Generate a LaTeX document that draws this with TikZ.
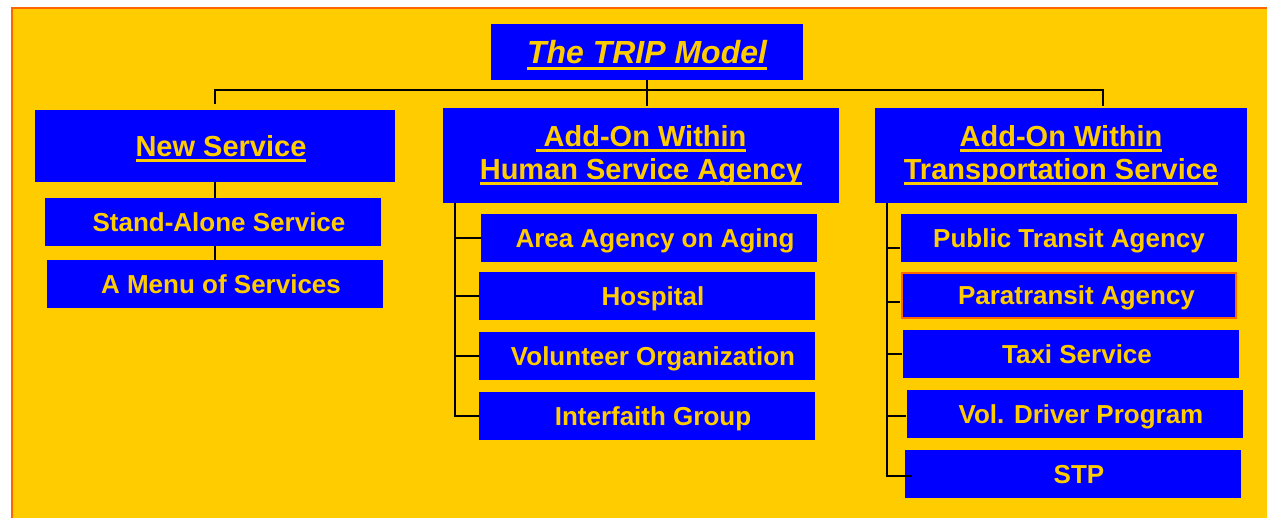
\documentclass[tikz,border=0pt]{standalone}
\usepackage{fontspec}
\setmainfont{Liberation Sans}
\usepackage{tikz}
\usetikzlibrary{calc}
\definecolor{tripyellow}{RGB}{255,204,0}
\definecolor{tripblue}{RGB}{0,0,255}
\definecolor{triporange}{RGB}{255,102,0}
% underline with a fixed gap below the baseline
\newcommand\tripul[2][2.8pt]{\setbox0\hbox{#2}\rlap{\vrule height -#1 depth \dimexpr#1+3pt\relax width \wd0}\box0}

\begin{document}
\begin{tikzpicture}[x=1pt, y=-1pt,
  box/.style={fill=tripblue, text=tripyellow, inner sep=0pt, align=center},
  head/.style={box, font=\bfseries\fontsize{29}{33}\selectfont},
  member/.style={box, font=\bfseries\fontsize{26}{30}\selectfont, minimum width=336, minimum height=48, text height=19pt, text depth=0pt},
  nudge/.style={execute at begin node=\hspace*{#1}},
  link/.style={black, line width=1.7pt}]
  \useasboundingbox (0,0) rectangle (1267,518);
  \fill[tripyellow] (12,8) rectangle (1267,518);
  \draw[triporange, line width=2pt] (12,518) -- (12,8) -- (1267,8);

  \node[box, font=\bfseries\itshape\fontsize{32}{36}\selectfont, minimum width=312, minimum height=56, text height=23pt, text depth=0pt] (title) at (647,52) {\tripul[4pt]{The TRIP Model}};

  % the three kinds of service
  \node[head, minimum width=360, minimum height=72, text height=21pt, text depth=0pt] (hdrN) at (215,146) {\hspace*{12pt}\tripul{New Service}};
  \node[head, minimum width=396, minimum height=95] (hdrH) at (641,155.5) {\tripul{\ Add-On Within}\\\tripul{Human Service Agency}};
  \node[head, minimum width=372, minimum height=95] (hdrT) at (1061,155.5) {\tripul{Add-On Within}\\\tripul{Transportation Service}};

  % New service
  \node[member, nudge=12pt] (sas) at (213,222) {Stand-Alone Service};
  \node[member, nudge=12pt] (menu) at (215,284) {A Menu of Services};
  % Human service agency
  \node[member, nudge=12pt] (aaa) at (649,238) {Area Agency on Aging};
  \node[member, nudge=12pt] (hosp) at (647,296) {Hospital};
  \node[member, nudge=12pt] (vol) at (647,356) {Volunteer Organization};
  \node[member, nudge=12pt] (ig) at (647,416) {Interfaith Group};
  % Transportation service
  \node[member] (pta) at (1069,238) {Public Transit Agency};
  \node[member, draw=triporange, line width=2pt, minimum width=334, minimum height=45, nudge=15pt] (para) at (1069,295.5) {Paratransit Agency};
  \node[member, nudge=12pt] (taxi) at (1071,354) {Taxi Service};
  \node[member, nudge=12pt] (vdp) at (1075,414) {Vol. Driver Program};
  \node[member, nudge=12pt] (stp) at (1073,474) {STP};

  % title bus
  \coordinate (busL) at (215,90);
  \coordinate (busR) at (1103,90);
  \draw[link] ($(hdrN.north)+(0,-6)$) -- (busL) -- (busR) -- ($(hdrT.north)+(42,-2)$);
  \draw[link] (title.south) -- ($(title.south |- hdrH.north)+(0,-2)$);

  \draw[link, line width=1.2pt] (hdrN.south) -- (hdrN.south |- sas.north);
  \draw[link, line width=1.2pt] (hdrN.south |- sas.south) -- (hdrN.south |- menu.north);

  \coordinate (trH) at ($(hdrH.south west)+(12,0)$);
  \draw[link] (trH) |- (ig.west);
  \foreach \n in {aaa, hosp, vol}
    \draw[link] (trH |- \n.west) -- (\n.west);

  \coordinate (trT) at ($(hdrT.south west)+(12,0)$);
  \draw[link] (trT) |- ($(stp.west)+(7,2)$);
  \foreach \n/\dy in {pta/10, para/6.5, taxi/0, vdp/2}
    \draw[link] ($(trT |- \n.west)+(0,\dy)$) -- ($(\n.west)+(-1,\dy)$);
\end{tikzpicture}
\end{document}
